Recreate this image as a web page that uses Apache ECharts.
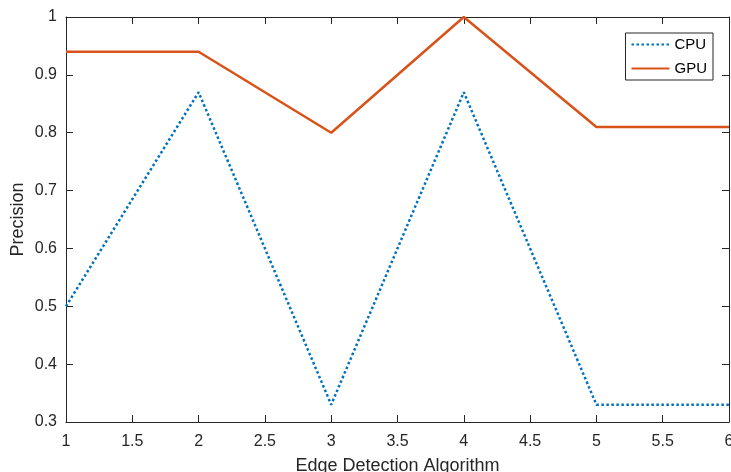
<!DOCTYPE html>
<html><head><meta charset="utf-8">
<script src="https://cdn.jsdelivr.net/npm/echarts@6/dist/echarts.min.js"></script>
<style>html,body{margin:0;padding:0;background:#fff}#c{width:731px;height:472px}</style>
</head><body><div id="c"></div>
<script>
const xValues = [1, 2, 3, 4, 5, 6];
const cpuValues = [0.5, 0.87, 0.33, 0.87, 0.33, 0.33];
const gpuValues = [0.94, 0.94, 0.80, 1.0, 0.81, 0.81];
const seriesNames = ['CPU', 'GPU'];
const font = 'Liberation Sans, Arial, Helvetica, sans-serif';
const axisColor = '#262626';
const chart = echarts.init(document.getElementById('c'));
const baseAxis = {
  axisLine: {show: true, onZero: false, lineStyle: {color: axisColor, width: 1}},
  axisTick: {show: true, inside: true, length: 7, lineStyle: {color: axisColor}},
  splitLine: {show: false},
  axisLabel: {color: axisColor, fontFamily: font, fontSize: 16},
  nameTextStyle: {color: axisColor, fontFamily: font, fontSize: 18},
  nameMoveOverlap: false
};
chart.setOption({
  animation: false,
  backgroundColor: '#fff',
  grid: {left: 66, right: 2, top: 17, bottom: 50, containLabel: false, outerBoundsMode: 'none'},
  legend: {
    data: seriesNames, orient: 'vertical', right: 18, top: 33,
    borderColor: axisColor, borderWidth: 1, backgroundColor: '#fff',
    padding: [4, 6, 4, 5], itemGap: 9, itemWidth: 38, itemHeight: 14,
    itemStyle: {opacity: 0},
    textStyle: {color: '#000', fontFamily: font, fontSize: 15}
  },
  xAxis: [
    Object.assign({}, baseAxis, {type: 'value', min: 1, max: 6, interval: 0.5,
      name: 'Edge Detection Algorithm', nameLocation: 'middle', nameGap: 35,
      axisLabel: Object.assign({}, baseAxis.axisLabel, {margin: 12})}),
    Object.assign({}, baseAxis, {type: 'value', min: 1, max: 6, interval: 0.5, position: 'top',
      axisLabel: {show: false}})
  ],
  yAxis: [
    Object.assign({}, baseAxis, {type: 'value', min: 0.3, max: 1, interval: 0.1,
      name: 'Precision', nameLocation: 'middle', nameGap: 39,
      axisLabel: Object.assign({}, baseAxis.axisLabel, {margin: 9, formatter: v => String(+v.toFixed(1))})}),
    Object.assign({}, baseAxis, {type: 'value', min: 0.3, max: 1, interval: 0.1, position: 'right',
      axisLabel: {show: false}})
  ],
  series: [
    {name: seriesNames[0], type: 'line', data: xValues.map((x, i) => [x, cpuValues[i]]),
     showSymbol: false, symbol: 'none', color: '#0072BD',
     lineStyle: {color: '#0072BD', width: 2.5, type: [2.5, 2.5]}},
    {name: seriesNames[1], type: 'line', data: xValues.map((x, i) => [x, gpuValues[i]]),
     showSymbol: false, symbol: 'none', color: '#D95319',
     lineStyle: {color: '#D95319', width: 2.5}}
  ]
});
</script></body></html>
